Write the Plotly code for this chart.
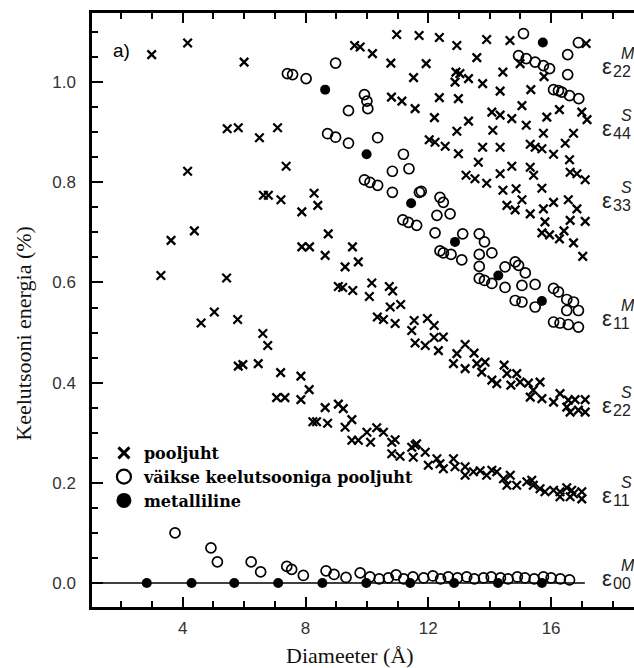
import plotly.graph_objects as go

# ---- data: semiconducting tubes (x markers) ----
semi_x = [2.99, 4.16, 6.0, 9.6, 9.78, 10.18, 10.97, 11.7, 12.36, 12.93, 13.9, 14.66, 17.14,
          10.78, 11.93, 11.52, 13.58, 12.9, 13.03, 12.87, 13.31, 13.77, 14.43, 14.99, 15.77,
          5.45, 5.81, 6.5, 7.09, 4.16, 7.37, 6.63, 6.79, 7.2, 7.88, 8.28, 8.4,
          10.8, 11.14, 11.57, 12.36, 12.98, 14.34, 15.34, 15.05, 12.2, 13.31, 14.07, 14.34, 14.72,
          16.27, 17.0, 17.17, 15.86, 15.19, 12.93, 14.1, 15.75, 16.73, 16.46, 12.03, 12.22, 12.55,
          12.98, 13.77, 14.34, 15.32, 15.48, 15.7, 16.08, 16.6, 16.62, 16.84, 17.11, 13.63, 13.23,
          13.52, 13.9, 14.34, 14.72, 15.32, 15.43, 14.43, 14.86, 15.7, 15.05, 14.56, 14.83, 15.32,
          15.75, 16.08, 16.56, 16.84, 15.8, 16.62, 17.11, 15.7, 15.95, 16.27, 16.42, 16.73, 17.03,
          8.74, 7.88, 8.13, 9.53, 8.64, 9.29, 9.72, 9.07, 9.21, 9.54,
          3.62, 4.38, 3.29, 5.43, 4.6, 5.03, 5.79, 6.61, 6.77, 5.81, 5.96, 6.46, 7.19, 7.85, 8.12,
          7.85, 7.06, 7.33, 8.64, 9.07, 9.23,
          10.08, 10.16, 10.73, 10.84, 10.76, 11.1, 10.34, 10.54, 10.92, 11.54, 11.97, 12.19, 11.46,
          11.57, 11.9, 12.19, 12.49, 12.33, 12.93, 13.2, 13.49, 12.82, 13.2, 13.58, 13.85, 13.74,
          14.07, 14.23, 14.47, 14.56, 14.88, 14.69, 14.99, 15.26, 15.32, 15.64, 15.7, 16.08, 16.29,
          16.56, 16.78, 17.11, 17.11, 16.51, 16.62, 16.89, 15.42,
          8.24, 8.36, 8.72, 9.29, 9.51, 9.51, 9.72, 10.12, 10.0, 10.32, 10.54, 10.81, 10.92, 11.57,
          10.81, 11.08, 11.46, 11.62, 11.9, 11.51, 12.0, 12.28, 12.49, 12.38, 12.82, 12.87, 13.2,
          13.2, 13.47, 13.69, 13.9, 14.07, 14.23, 14.45, 14.67, 14.56, 14.88, 15.21, 15.37, 15.42,
          15.64, 15.8, 16.08, 16.29, 16.51, 16.67, 16.73, 17.0, 17.0, 16.62, 16.29]
semi_y = [1.055, 1.078, 1.04, 1.073, 1.07, 1.057, 1.095, 1.093, 1.089, 1.073, 1.085, 1.083, 1.077,
          1.038, 1.037, 1.009, 1.049, 1.02, 1.017, 1.0, 1.007, 0.997, 1.02, 1.037, 1.011,
          0.907, 0.909, 0.889, 0.909, 0.822, 0.832, 0.774, 0.774, 0.765, 0.741, 0.778, 0.754,
          0.970, 0.962, 0.947, 0.969, 0.967, 0.982, 0.985, 0.953, 0.929, 0.922, 0.940, 0.934, 0.927,
          0.945, 0.940, 0.925, 0.930, 0.914, 0.902, 0.904, 0.898, 0.898, 0.878, 0.885, 0.880, 0.872,
          0.857, 0.870, 0.870, 0.876, 0.870, 0.867, 0.856, 0.845, 0.820, 0.817, 0.805, 0.840, 0.814,
          0.807, 0.798, 0.817, 0.832, 0.830, 0.814, 0.784, 0.787, 0.788, 0.765, 0.754, 0.745, 0.737,
          0.747, 0.760, 0.765, 0.747, 0.721, 0.724, 0.722, 0.699, 0.695, 0.687, 0.703, 0.679, 0.652,
          0.697, 0.671, 0.671, 0.671, 0.654, 0.631, 0.641, 0.592, 0.590, 0.584,
          0.684, 0.703, 0.614, 0.609, 0.519, 0.541, 0.526, 0.498, 0.474, 0.433, 0.436, 0.438, 0.420,
          0.413, 0.386, 0.366, 0.370, 0.370, 0.350, 0.357, 0.348,
          0.572, 0.599, 0.592, 0.583, 0.551, 0.556, 0.531, 0.526, 0.518, 0.524, 0.528, 0.514, 0.504,
          0.479, 0.474, 0.490, 0.491, 0.464, 0.458, 0.476, 0.459, 0.438, 0.428, 0.438, 0.441, 0.421,
          0.405, 0.398, 0.435, 0.418, 0.418, 0.395, 0.401, 0.399, 0.371, 0.401, 0.368, 0.361, 0.378,
          0.365, 0.366, 0.366, 0.341, 0.351, 0.341, 0.345, 0.385,
          0.322, 0.322, 0.319, 0.311, 0.326, 0.285, 0.285, 0.281, 0.301, 0.310, 0.301, 0.281, 0.286, 0.275,
          0.258, 0.253, 0.271, 0.278, 0.261, 0.251, 0.235, 0.248, 0.228, 0.238, 0.248, 0.232, 0.232,
          0.215, 0.222, 0.224, 0.215, 0.225, 0.222, 0.208, 0.215, 0.195, 0.195, 0.202, 0.205, 0.195,
          0.188, 0.182, 0.185, 0.182, 0.190, 0.185, 0.178, 0.182, 0.168, 0.172, 0.172]

# ---- data: small-gap semiconducting tubes (open circles) ----
small_x = [7.41, 7.58, 8.02, 8.98, 9.4, 8.72, 8.98, 9.4,
           9.92, 10.0, 10.03, 10.35, 11.19, 11.37, 10.83, 9.92, 10.1, 10.35, 10.83, 11.71, 11.17,
           11.35, 11.62, 11.77, 12.38, 12.49, 12.28, 12.71,
           15.1, 16.89, 14.94, 15.19, 15.48, 15.75, 15.95, 16.54, 16.54, 16.08, 16.24, 16.35, 16.6, 16.9,
           12.22, 13.12, 12.38, 12.49, 12.74, 13.09, 13.66, 13.83, 13.66, 14.07, 13.66, 13.66, 13.83,
           14.07, 14.5, 14.5, 14.83, 14.94, 15.16, 15.05, 15.48, 14.83, 15.05, 15.48, 16.08, 16.24,
           16.51, 16.73, 16.51, 16.89, 16.08, 16.29, 16.56, 16.89,
           3.75, 4.92, 5.13, 6.23, 6.54, 7.39, 7.55, 7.93, 8.67, 8.93, 9.32, 9.78,
           10.1, 10.4, 10.7, 10.95, 11.2, 11.5, 11.85, 12.15, 12.4, 12.65, 12.95, 13.25, 13.5, 13.8,
           14.05, 14.35, 14.6, 14.9, 15.15, 15.45, 15.75, 16.0, 16.3, 16.6]
small_y = [1.017, 1.015, 1.007, 1.038, 0.943, 0.897, 0.890, 0.878,
           0.975, 0.962, 0.947, 0.889, 0.856, 0.827, 0.822, 0.805, 0.800, 0.794, 0.780, 0.780, 0.725,
           0.720, 0.714, 0.782, 0.770, 0.760, 0.734, 0.737,
           1.097, 1.079, 1.053, 1.047, 1.040, 1.033, 1.027, 1.055, 1.015, 0.985, 0.983, 0.980, 0.973, 0.967,
           0.699, 0.697, 0.663, 0.659, 0.656, 0.645, 0.697, 0.681, 0.656, 0.659, 0.632, 0.608, 0.604,
           0.598, 0.590, 0.631, 0.641, 0.634, 0.619, 0.594, 0.596, 0.564, 0.561, 0.551, 0.588, 0.581,
           0.566, 0.561, 0.544, 0.544, 0.521, 0.519, 0.516, 0.511,
           0.100, 0.070, 0.042, 0.042, 0.022, 0.033, 0.027, 0.015, 0.024, 0.017, 0.011, 0.020,
           0.012, 0.008, 0.010, 0.016, 0.008, 0.012, 0.010, 0.014, 0.008, 0.012, 0.010, 0.012, 0.008, 0.010,
           0.012, 0.010, 0.008, 0.012, 0.010, 0.008, 0.012, 0.010, 0.008, 0.006]

# ---- data: metallic tubes (filled circles) ----
metal_x = [2.83, 4.29, 5.68, 7.11, 8.55, 9.98, 11.41, 12.84, 14.27, 15.7,
           8.64, 9.99, 11.44, 12.87, 14.28, 15.7, 15.73]
metal_y = [0, 0, 0, 0, 0, 0, 0, 0, 0, 0,
           0.985, 0.856, 0.758, 0.681, 0.614, 0.563, 1.079]

# E00 metallic zero-gap line
e00_line_x = [1.0, 17.1]
e00_line_y = [0.0, 0.0]

# transition labels on the right
label_sub = ["22", "44", "33", "11", "22", "11", "00"]
label_sup = ["M", "S", "S", "M", "S", "S", "M"]
label_y = [1.031, 0.908, 0.763, 0.528, 0.355, 0.175, 0.009]

legend_names = ["pooljuht", "väikse keelutsooniga pooljuht", "metalliline"]

SERIF = "Liberation Serif"
SANS = "Liberation Sans"

fig = go.Figure()
fig.add_trace(go.Scatter(x=e00_line_x, y=e00_line_y, mode="lines",
                         line=dict(color="black", width=1.6), showlegend=False, hoverinfo="skip"))
fig.add_trace(go.Scatter(x=semi_x, y=semi_y, mode="markers", showlegend=False,
                         marker=dict(symbol="x-thin", size=8.5, color="black",
                                     line=dict(color="black", width=2.3))))
fig.add_trace(go.Scatter(x=small_x, y=small_y, mode="markers", showlegend=False,
                         marker=dict(symbol="circle-open", size=10, color="black",
                                     line=dict(color="black", width=1.7))))
fig.add_trace(go.Scatter(x=metal_x, y=metal_y, mode="markers", showlegend=False,
                         marker=dict(symbol="circle", size=10, color="black")))
# legend entries
fig.add_trace(go.Scatter(x=[None], y=[None], mode="markers", name=legend_names[0],
                         marker=dict(symbol="x-thin", size=11, color="black",
                                     line=dict(color="black", width=3))))
fig.add_trace(go.Scatter(x=[None], y=[None], mode="markers", name=legend_names[1],
                         marker=dict(symbol="circle-open", size=14, color="black",
                                     line=dict(color="black", width=2.2))))
fig.add_trace(go.Scatter(x=[None], y=[None], mode="markers", name=legend_names[2],
                         marker=dict(symbol="circle", size=15, color="black")))

annotations = []
for sub, sup, yl in zip(label_sub, label_sup, label_y):
    annotations.append(dict(x=17.58, y=yl, xref="x", yref="y", text="ε", showarrow=False,
                            xanchor="left", yanchor="middle", font=dict(family=SANS, size=22, color="#222")))
    annotations.append(dict(x=17.95, y=yl, xref="x", yref="y", text=sub, showarrow=False,
                            xanchor="left", yanchor="middle", yshift=-5,
                            font=dict(family=SANS, size=16, color="#222")))
    annotations.append(dict(x=18.2, y=yl, xref="x", yref="y", text="<i>" + sup + "</i>", showarrow=False,
                            xanchor="left", yanchor="middle", yshift=13,
                            font=dict(family=SANS, size=16, color="#222")))
annotations.append(dict(x=2.02, y=1.063, xref="x", yref="y", text="a)", showarrow=False,
                        xanchor="center", yanchor="middle", font=dict(family=SANS, size=19, color="black")))
annotations.append(dict(x=9.45, y=0, xref="x", yref="paper", text="Diameeter (Å)", showarrow=False,
                        xanchor="center", yanchor="top", yshift=-34,
                        font=dict(family=SERIF, size=22, color="#111")))
annotations.append(dict(x=0, y=0.46, xref="paper", yref="paper", text="Keelutsooni energia (%)",
                        showarrow=False, textangle=-90, xanchor="center", yanchor="middle", xshift=-68,
                        font=dict(family=SERIF, size=22, color="#111")))

fig.update_layout(
    width=634, height=668,
    margin=dict(l=92, r=0, t=13, b=61),
    paper_bgcolor="white", plot_bgcolor="white",
    annotations=annotations,
    legend=dict(x=0.022, y=0.288, xanchor="left", yanchor="top",
                bgcolor="rgba(0,0,0,0)", font=dict(family="DejaVu Serif", size=16, color="black", weight="bold"),
                itemsizing="trace", tracegroupgap=0),
    xaxis=dict(range=[1.046, 18.70], showgrid=False, zeroline=False,
               showline=True, linecolor="black", linewidth=2.5, mirror="allticks",
               ticks="inside", tickmode="linear", tick0=0, dtick=4, ticklen=10, tickwidth=2.2,
               tickcolor="black", ticklabelstandoff=4,
               minor=dict(ticks="inside", dtick=1, tick0=0, ticklen=6, tickwidth=1.6, tickcolor="black"),
               tickfont=dict(family=SANS, size=17, color="#333")),
    yaxis=dict(range=[-0.048, 1.138], showgrid=False, zeroline=False,
               showline=True, linecolor="black", linewidth=2.5, mirror=False,
               ticks="inside", tickmode="linear", tick0=0, dtick=0.2, ticklen=11, tickwidth=2.2,
               tickcolor="black", tickformat=".1f", ticklabelstandoff=10,
               minor=dict(ticks="inside", dtick=0.05, tick0=0, ticklen=6, tickwidth=1.6, tickcolor="black"),
               tickfont=dict(family=SANS, size=17, color="#333")),
)

# remove the browser's default 8 px page margin so the figure fills the window exactly
fig.write_html("out.html", config={"displayModeBar": False},
               post_script="document.body.style.margin='0';document.body.style.overflow='hidden';")
